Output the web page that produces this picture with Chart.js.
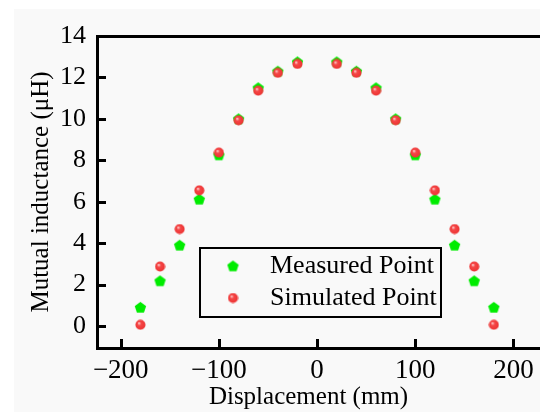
<!DOCTYPE html>
<html>
<head>
<meta charset="utf-8">
<script src="https://cdn.jsdelivr.net/npm/chart.js@4.4.1/dist/chart.umd.min.js"></script>
<style>
html, body { margin: 0; padding: 0; background: #fff; overflow: hidden; }
#wrap { width: 560px; height: 412px; }
</style>
</head>
<body>
<div id="wrap"><canvas id="chart" width="560" height="412"></canvas></div>
<script>
// Data
const displacement = [-180, -160, -140, -120, -100, -80, -60, -40, -20, 20, 40, 60, 80, 100, 120, 140, 160, 180];
const measured = [0.90, 2.18, 3.90, 6.12, 8.26, 10.0, 11.5, 12.3, 12.75, 12.75, 12.3, 11.5, 10.0, 8.26, 6.12, 3.90, 2.18, 0.90];
const simulated = [0.06, 2.87, 4.68, 6.55, 8.37, 9.93, 11.36, 12.22, 12.65, 12.65, 12.22, 11.36, 9.93, 8.37, 6.55, 4.68, 2.87, 0.06];
const xTicks = [-200, -100, 0, 100, 200];
const yTicks = [0, 2, 4, 6, 8, 10, 12, 14];
const seriesNames = ['Measured Point', 'Simulated Point'];

const FONT = "'Liberation Serif', 'Times New Roman', serif";

// Marker images
function makePentagon() {
    const c = document.createElement('canvas');
    c.width = 13; c.height = 13;
    const g = c.getContext('2d');
    g.fillStyle = '#00ec00';
    g.beginPath();
    for (let i = 0; i < 5; i++) {
        const a = -Math.PI / 2 + i * 2 * Math.PI / 5;
        const px = 6.5 + 6 * Math.cos(a);
        const py = 7 + 6 * Math.sin(a);
        if (i === 0) g.moveTo(px, py); else g.lineTo(px, py);
    }
    g.closePath();
    g.fill();
    return c;
}

function makeSphere() {
    const c = document.createElement('canvas');
    c.width = 11; c.height = 11;
    const g = c.getContext('2d');
    const grad = g.createRadialGradient(4, 3.8, 0.3, 5.5, 5.5, 5.5);
    grad.addColorStop(0, '#ffd0d0');
    grad.addColorStop(0.3, '#f54848');
    grad.addColorStop(0.85, '#ee3535');
    grad.addColorStop(1, '#e23030');
    g.fillStyle = grad;
    g.beginPath();
    g.arc(5.5, 5.5, 5, 0, Math.PI * 2);
    g.fill();
    return c;
}

const pentagonImg = makePentagon();
const sphereImg = makeSphere();

// Light grey backdrop like the original figure
const backdrop = {
    id: 'backdrop',
    beforeDraw(chart) {
        const ctx = chart.ctx;
        ctx.save();
        ctx.fillStyle = '#f9f9f9';
        ctx.fillRect(14, 9, chart.width, chart.height);
        ctx.restore();
    }
};

// Inward tick marks
const innerTicks = {
    id: 'innerTicks',
    afterDraw(chart) {
        const { ctx, chartArea, scales } = chart;
        ctx.save();
        ctx.strokeStyle = '#000';
        ctx.lineWidth = 3;
        scales.x.ticks.forEach(t => {
            const px = Math.round(scales.x.getPixelForValue(t.value)) + 0.5;
            ctx.beginPath();
            ctx.moveTo(px, chartArea.bottom);
            ctx.lineTo(px, chartArea.bottom - 9);
            ctx.stroke();
        });
        scales.y.ticks.forEach(t => {
            if (t.value >= 14) return;
            const py = Math.round(scales.y.getPixelForValue(t.value)) + 0.5;
            ctx.beginPath();
            ctx.moveTo(chartArea.left, py);
            ctx.lineTo(chartArea.left + 9, py);
            ctx.stroke();
        });
        ctx.restore();
    }
};

// Boxed legend inside the plot, and the x title
const boxLegend = {
    id: 'boxLegend',
    afterDraw(chart) {
        const ctx = chart.ctx;
        ctx.save();
        ctx.strokeStyle = '#000';
        ctx.lineWidth = 2;
        ctx.strokeRect(200, 248, 241, 69);
        ctx.drawImage(pentagonImg, 233 - 6.5, 266 - 6.5);
        ctx.drawImage(sphereImg, 233 - 5.5, 298 - 5.5);
        ctx.fillStyle = '#000';
        ctx.font = '26px ' + FONT;
        ctx.textAlign = 'left';
        ctx.textBaseline = 'middle';
        ctx.fillText(seriesNames[0], 270, 266);
        ctx.fillText(seriesNames[1], 270, 298);

        ctx.font = '25px ' + FONT;
        ctx.textAlign = 'center';
        ctx.textBaseline = 'alphabetic';
        ctx.fillText('Displacement (mm)', 308.5, 404);
        ctx.restore();
    }
};

const minus = v => String(v).replace('-', '\u2212');

new Chart(document.getElementById('chart'), {
    type: 'scatter',
    data: {
        datasets: [
            {
                label: seriesNames[0],
                data: displacement.map((x, i) => ({ x: x, y: measured[i] })),
                pointStyle: pentagonImg,
                order: 1
            },
            {
                label: seriesNames[1],
                data: displacement.map((x, i) => ({ x: x, y: simulated[i] })),
                pointStyle: sphereImg,
                order: 0
            }
        ]
    },
    options: {
        responsive: false,
        animation: false,
        layout: { padding: 0 },
        plugins: {
            legend: { display: false },
            tooltip: { enabled: false }
        },
        scales: {
            x: {
                type: 'linear',
                position: 'bottom',
                min: -224.2,
                max: 242.3,
                afterBuildTicks: s => { s.ticks = xTicks.map(v => ({ value: v })); },
                afterFit: s => { s.height = 64; },
                grid: { display: false, drawTicks: false },
                border: { display: true, color: '#000', width: 3 },
                ticks: {
                    color: '#000',
                    padding: 7,
                    maxRotation: 0,
                    font: { family: FONT, size: 27 },
                    callback: minus
                }
            },
            xTop: {
                type: 'linear',
                position: 'top',
                min: -224.2,
                max: 242.3,
                afterFit: s => { s.height = 36; },
                grid: { display: false, drawTicks: false },
                border: { display: true, color: '#000', width: 3 },
                ticks: { display: false }
            },
            y: {
                type: 'linear',
                min: -1.062,
                max: 14,
                afterBuildTicks: s => { s.ticks = yTicks.map(v => ({ value: v })); },
                afterFit: s => { s.width = 97; },
                grid: { display: false, drawTicks: false },
                border: { display: true, color: '#000', width: 3 },
                ticks: {
                    color: '#000',
                    padding: 11,
                    font: { family: FONT, size: 26 },
                    callback: minus
                },
                title: {
                    display: true,
                    text: 'Mutual inductance (\u03bcH)',
                    color: '#000',
                    font: { family: FONT, size: 25 },
                    padding: { top: 26, bottom: 0 }
                }
            }
        }
    },
    plugins: [backdrop, innerTicks, boxLegend]
});
</script>
</body>
</html>
